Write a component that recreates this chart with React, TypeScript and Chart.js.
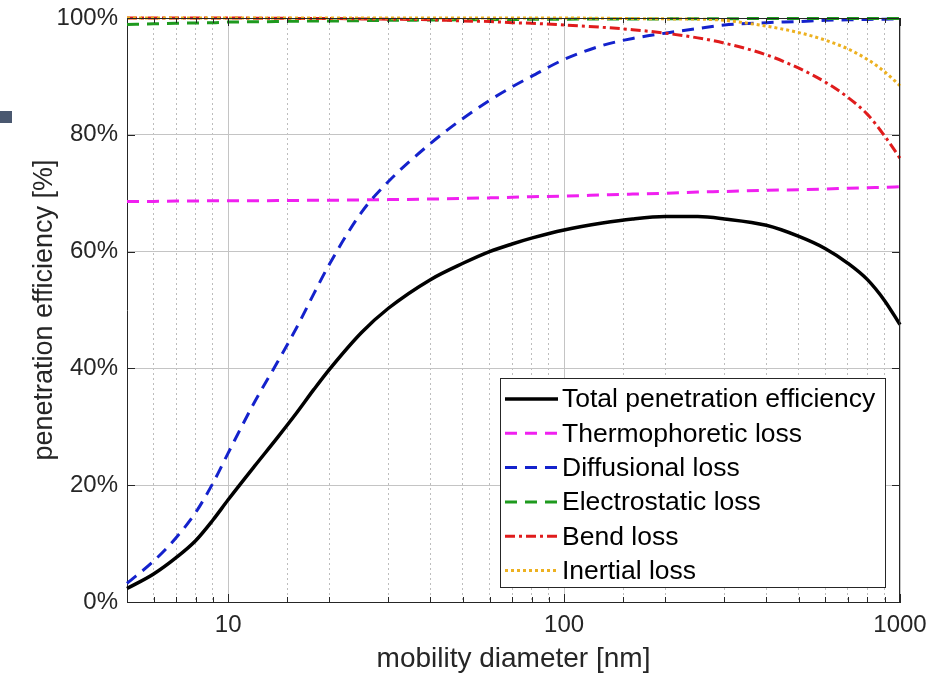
import React, { useEffect, useRef } from 'react';
import { Chart, registerables } from 'chart.js';

Chart.register(...registerables);

// mobility diameter [nm]
const diameters = [5, 6, 7, 8, 9, 10, 12, 14, 16, 18, 20, 25, 30, 40, 50, 60, 70, 80, 100, 130, 160, 200, 250, 300, 400, 500, 600, 700, 800, 900, 1000];

// penetration efficiency [%]
const totalEff = [2.3, 4.8, 7.6, 10.5, 14.0, 17.5, 23.3, 28.1, 32.4, 36.4, 39.8, 46.2, 50.3, 55.2, 58.0, 60.0, 61.3, 62.3, 63.7, 64.9, 65.6, 66.0, 66.0, 65.6, 64.5, 62.6, 60.5, 58.0, 55.2, 51.6, 47.5];
const thermoLoss = [68.6, 68.6, 68.65, 68.65, 68.7, 68.7, 68.7, 68.75, 68.75, 68.8, 68.8, 68.85, 68.9, 69.0, 69.1, 69.2, 69.3, 69.4, 69.5, 69.7, 69.85, 70.0, 70.2, 70.3, 70.5, 70.6, 70.7, 70.85, 70.95, 71.0, 71.1];
const diffLoss = [3.2, 7.0, 11.0, 15.3, 20.3, 25.5, 34.3, 41.0, 47.0, 52.8, 57.8, 66.8, 72.0, 78.5, 82.8, 85.9, 88.2, 90.0, 92.9, 95.3, 96.5, 97.4, 98.2, 98.8, 99.2, 99.4, 99.6, 99.7, 99.75, 99.8, 99.85];
const elecLoss = [98.9, 99.0, 99.1, 99.15, 99.2, 99.3, 99.35, 99.4, 99.45, 99.5, 99.5, 99.55, 99.6, 99.65, 99.7, 99.72, 99.75, 99.77, 99.8, 99.82, 99.84, 99.85, 99.87, 99.88, 99.9, 99.9, 99.9, 99.9, 99.9, 99.9, 99.9];
const bendLoss = [100, 100, 100, 100, 100, 100, 99.97, 99.95, 99.93, 99.9, 99.9, 99.85, 99.8, 99.7, 99.5, 99.4, 99.2, 99.1, 98.8, 98.4, 98.0, 97.4, 96.6, 95.7, 93.7, 91.4, 89.0, 86.4, 83.5, 79.8, 76.0];
const inertialLoss = [100, 100, 100, 100, 100, 100, 100, 100, 100, 100, 100, 100, 100, 100, 100, 100, 100, 100, 100, 99.95, 99.9, 99.85, 99.8, 99.6, 98.6, 97.5, 96.2, 94.7, 92.9, 90.8, 88.4];

const seriesLabels = ['Total penetration efficiency', 'Thermophoretic loss', 'Diffusional loss', 'Electrostatic loss', 'Bend loss', 'Inertial loss'];
const xTickLabels = [10, 100, 1000];
const yTickValues = [0, 20, 40, 60, 80, 100];

const FONT = '"Liberation Sans", Arial, Helvetica, sans-serif';
const TEXT = '#262626';

const isMajorX = (v: number) => xTickLabels.includes(v);

const framePlugin = {
  id: 'frameAndLegend',
  afterDraw(chart: any) {
    const { ctx, chartArea: a, scales } = chart;
    const xs = scales.x;
    const ys = scales.y;
    ctx.save();
    ctx.strokeStyle = TEXT;
    ctx.lineWidth = 1;
    ctx.setLineDash([]);
    ctx.beginPath();
    ctx.moveTo(a.left, a.top + 0.5);
    ctx.lineTo(a.right, a.top + 0.5);
    ctx.moveTo(a.right - 0.5, a.top);
    ctx.lineTo(a.right - 0.5, a.bottom);
    xs.ticks.forEach((t: any) => {
      const px = Math.round(xs.getPixelForValue(t.value)) + 0.5;
      const len = isMajorX(t.value) ? 8 : 5;
      ctx.moveTo(px, a.bottom);
      ctx.lineTo(px, a.bottom - len);
      ctx.moveTo(px, a.top);
      ctx.lineTo(px, a.top + len);
    });
    ys.ticks.forEach((t: any) => {
      const py = Math.round(ys.getPixelForValue(t.value)) + 0.5;
      ctx.moveTo(a.left, py);
      ctx.lineTo(a.left + 8, py);
      ctx.moveTo(a.right, py);
      ctx.lineTo(a.right - 8, py);
    });
    ctx.stroke();

    // legend box
    const bx = 500, by = 378, bw = 385, bh = 209;
    ctx.fillStyle = '#ffffff';
    ctx.fillRect(bx, by, bw, bh);
    ctx.strokeStyle = TEXT;
    ctx.lineWidth = 1;
    ctx.strokeRect(bx + 0.5, by + 0.5, bw, bh);
    ctx.font = `26.5px ${FONT}`;
    ctx.textBaseline = 'middle';
    ctx.textAlign = 'left';
    chart.data.datasets.forEach((ds: any, i: number) => {
      const cy = 399 + i * 34.3;
      ctx.save();
      ctx.strokeStyle = ds.borderColor;
      ctx.lineWidth = ds.borderWidth;
      ctx.setLineDash(ds.borderDash || []);
      ctx.beginPath();
      ctx.moveTo(505, cy);
      ctx.lineTo(558, cy);
      ctx.stroke();
      ctx.restore();
      ctx.fillStyle = '#000000';
      ctx.fillText(ds.label, 562, cy + 1);
    });
    ctx.restore();
  },
};

export default function App() {
  const ref = useRef<HTMLCanvasElement>(null);

  useEffect(() => {
    const mk = (vals: number[]) => diameters.map((d, i) => ({ x: d, y: vals[i] }));
    const common = {
      pointRadius: 0,
      pointHoverRadius: 0,
      fill: false,
      cubicInterpolationMode: 'monotone' as const,
      clip: 6,
    };
    const chart = new Chart(ref.current as HTMLCanvasElement, {
      type: 'line',
      data: {
        datasets: [
          { ...common, label: seriesLabels[0], data: mk(totalEff), borderColor: '#000000', borderWidth: 3.5, borderDash: [], order: 6 },
          { ...common, label: seriesLabels[1], data: mk(thermoLoss), borderColor: '#F020F0', borderWidth: 3, borderDash: [12, 8], order: 5 },
          { ...common, label: seriesLabels[2], data: mk(diffLoss), borderColor: '#1422CC', borderWidth: 3, borderDash: [12, 8], order: 4 },
          { ...common, label: seriesLabels[3], data: mk(elecLoss), borderColor: '#1E9A1E', borderWidth: 3, borderDash: [12, 8], order: 3 },
          { ...common, label: seriesLabels[4], data: mk(bendLoss), borderColor: '#E01C1C', borderWidth: 3, borderDash: [10, 4, 3, 4], order: 2 },
          { ...common, label: seriesLabels[5], data: mk(inertialLoss), borderColor: '#EDB120', borderWidth: 3, borderDash: [3, 3], order: 1 },
        ],
      },
      options: {
        animation: false,
        responsive: false,
        devicePixelRatio: 1,
        events: [],
        layout: { padding: { left: 0, top: 18, right: 44, bottom: 0 } },
        plugins: {
          legend: { display: false },
          tooltip: { enabled: false },
        },
        scales: {
          x: {
            type: 'logarithmic',
            min: 5,
            max: 1000,
            afterFit: (s: any) => { s.height = 79; s.paddingLeft = 0; s.paddingRight = 0; },
            grid: {
              drawTicks: false,
              color: (c: any) => (c.tick && isMajorX(c.tick.value) ? '#c4c4c4' : '#bdbdbd'),
              lineWidth: 1,
            },
            border: {
              color: TEXT,
              width: 1,
              dash: (c: any) => (c.tick && !isMajorX(c.tick.value) ? [2, 3] : []),
            },
            ticks: {
              autoSkip: false,
              maxRotation: 0,
              minRotation: 0,
              padding: 9,
              color: TEXT,
              font: { family: FONT, size: 24 },
              callback: (v: any) => (isMajorX(Number(v)) ? String(v) : ''),
            },
            title: {
              display: true,
              text: 'mobility diameter [nm]',
              color: TEXT,
              font: { family: FONT, size: 28 },
              padding: { top: 0, bottom: 5 },
            },
          },
          y: {
            type: 'linear',
            min: 0,
            max: 100,
            afterFit: (s: any) => { s.width = 127; s.paddingTop = 0; s.paddingBottom = 0; },
            afterBuildTicks: (s: any) => { s.ticks = yTickValues.map((v) => ({ value: v })); },
            grid: { drawTicks: false, color: '#c4c4c4', lineWidth: 1 },
            border: { color: TEXT, width: 1 },
            ticks: {
              padding: 9,
              color: TEXT,
              font: { family: FONT, size: 24 },
              callback: (v: any) => `${v}%`,
            },
            title: {
              display: true,
              text: 'penetration efficiency [%]',
              color: TEXT,
              font: { family: FONT, size: 27 },
              padding: { top: 28, bottom: 0 },
            },
          },
        },
      },
      plugins: [framePlugin],
    } as any);
    return () => chart.destroy();
  }, []);

  return (
    <div style={{ position: 'absolute', left: 0, top: 0, width: 944, height: 681, background: '#ffffff' }}>
      <canvas ref={ref} width={944} height={681} style={{ display: 'block', width: 944, height: 681 }} />
      <div style={{ position: 'absolute', left: 0, top: 111, width: 12, height: 12, background: '#4a5870' }} />
    </div>
  );
}
